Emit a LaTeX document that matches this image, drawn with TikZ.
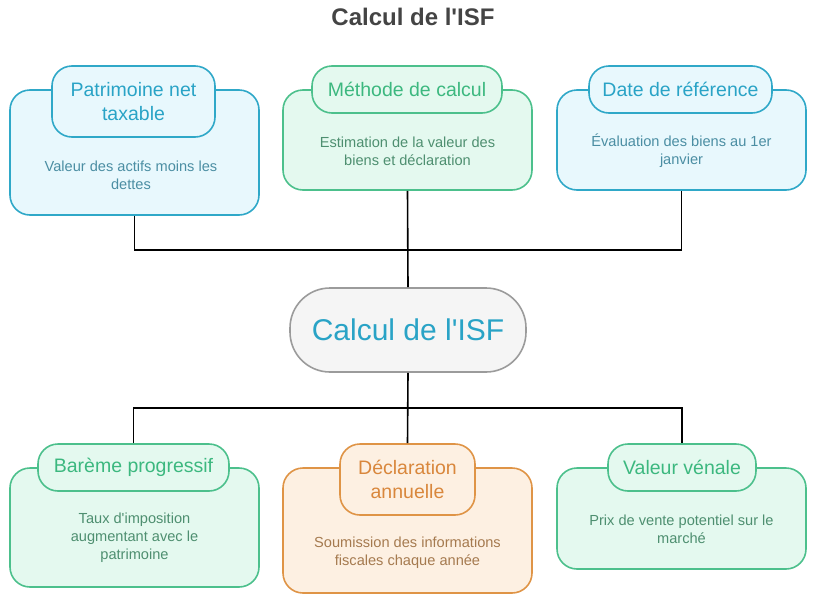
\documentclass[tikz,border=0pt]{standalone}
\usepackage{fontspec}
\setmainfont{Liberation Sans}[Ligatures=TeXOff]
\usepackage{xcolor}
\usetikzlibrary{positioning,calc}
\definecolor{bluedraw}{RGB}{47,168,200}
\definecolor{bluefill}{RGB}{232,248,253}
\definecolor{bluetext}{RGB}{41,163,198}
\definecolor{bluebody}{RGB}{75,142,163}
\definecolor{greendraw}{RGB}{76,192,140}
\definecolor{greenfill}{RGB}{228,249,239}
\definecolor{greentext}{RGB}{60,184,127}
\definecolor{greenbody}{RGB}{78,143,112}
\definecolor{orangedraw}{RGB}{223,148,70}
\definecolor{orangefill}{RGB}{253,240,226}
\definecolor{orangetext}{RGB}{217,135,60}
\definecolor{orangebody}{RGB}{165,122,79}
\definecolor{centerdraw}{RGB}{155,155,155}
\definecolor{centerfill}{RGB}{245,245,245}
\definecolor{titlegray}{RGB}{68,68,68}

\begin{document}
\begin{tikzpicture}[
  x=1pt, y=-1pt,
  card/.style={draw, rounded corners=20pt, line width=1.6pt, minimum width=249pt, inner sep=0pt},
  head/.style={draw, rounded corners=20pt, line width=1.6pt, align=center, inner sep=0pt,
    minimum height=47pt, font=\fontsize{19.5}{24}\selectfont},
  body/.style={align=center, font=\fontsize{14.6}{18}\selectfont},
  bluecard/.style={card, draw=bluedraw, fill=bluefill},
  greencard/.style={card, draw=greendraw, fill=greenfill},
  orangecard/.style={card, draw=orangedraw, fill=orangefill},
  bluehead/.style={head, draw=bluedraw, fill=bluefill, text=bluetext},
  greenhead/.style={head, draw=greendraw, fill=greenfill, text=greentext},
  orangehead/.style={head, draw=orangedraw, fill=orangefill, text=orangetext},
  link/.style={draw=black, line width=1.6pt}
]
\useasboundingbox (0,0) rectangle (816,608);
\node[font=\fontsize{24}{28}\selectfont\bfseries, text=titlegray] (title) at (413,17) {Calcul de l'ISF};

% Top row
\node[bluecard, minimum height=125pt] (pat) at (134.5,152.5) {};
\node[bluehead, minimum width=163pt, minimum height=71pt] (pathead) at (133.5,101.5) {Patrimoine net\\taxable};
\node[body, text=bluebody] (pattext) at (131,175) {Valeur des actifs moins les\\dettes};

\node[greencard, minimum height=100pt] (meth) at (407.5,140) {};
\node[greenhead, minimum width=190pt] (methhead) at (407,89.5) {Méthode de calcul};
\node[body, text=greenbody] (methtext) at (407.5,151) {Estimation de la valeur des\\biens et déclaration};

\node[bluecard, minimum height=100pt] (date) at (681.5,140) {};
\node[bluehead, minimum width=183pt] (datehead) at (680.5,89.5) {Date de référence};
\node[body, text=bluebody] (datetext) at (681.5,151) {Évaluation des biens au 1er\\janvier};

% Center
\node[draw=centerdraw, fill=centerfill, line width=1.6pt, rounded corners=40pt,
  minimum width=236pt, minimum height=84pt, text=bluetext,
  font=\fontsize{30}{34}\selectfont] (isf) at (408,330) {Calcul de l'ISF};

% Bottom row
\node[greencard, minimum height=119pt] (bar) at (134.5,527.5) {};
\node[greenhead, minimum width=191pt] (barhead) at (133.5,467.5) {Barème progressif};
\node[body, text=greenbody] (bartext) at (134.5,538) {Taux d'imposition\\augmentant avec le\\patrimoine};

\node[orangecard, minimum height=125pt] (decl) at (407.5,530.5) {};
\node[orangehead, minimum width=135pt, minimum height=71pt] (declhead) at (407.5,479.5) {Déclaration\\annuelle};
\node[body, text=orangebody] (decltext) at (407.5,553) {Soumission des informations\\fiscales chaque année};

\node[greencard, minimum height=101pt] (ven) at (681.5,518.5) {};
\node[greenhead, minimum width=148pt] (venhead) at (682,467.5) {Valeur vénale};
\node[body, text=greenbody] (ventext) at (681.5,529) {Prix de vente potentiel sur le\\marché};

% Connectors
\coordinate (topjoin) at (408,250);
\coordinate (botjoin) at (408,408);
\draw[link] (pat.south) |- (topjoin) -| (date.south);
\draw[link] (meth.south) -- (isf.north);
\draw[link] (isf.south) -- (declhead.north);
\draw[link] (barhead.north) |- (botjoin) -| (venhead.north);
\end{tikzpicture}
\end{document}
